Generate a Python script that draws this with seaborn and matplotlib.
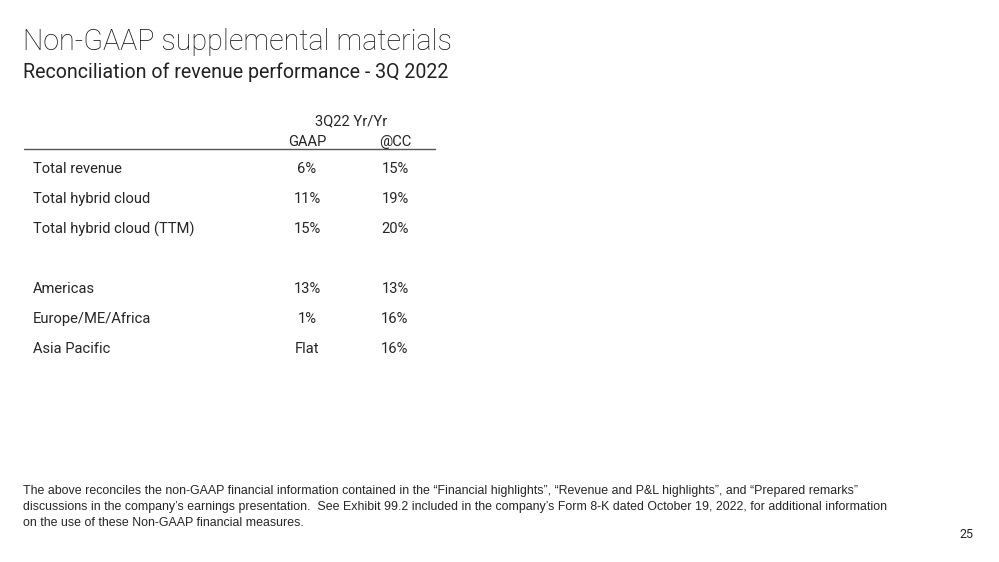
import matplotlib
matplotlib.use("Agg")
import matplotlib.pyplot as plt
import seaborn as sns

# table content
header_top = "3Q22 Yr/Yr"
col_names = ["GAAP", "@CC"]
group1_labels = ["Total revenue", "Total hybrid cloud", "Total hybrid cloud (TTM)"]
group1_gaap = ["6%", "11%", "15%"]
group1_cc = ["15%", "19%", "20%"]
group2_labels = ["Americas", "Europe/ME/Africa", "Asia Pacific"]
group2_gaap = ["13%", "1%", "Flat"]
group2_cc = ["13%", "16%", "16%"]

title = "Non-GAAP supplemental materials"
subtitle = "Reconciliation of revenue performance - 3Q 2022"
footnote = ("The above reconciles the non-GAAP financial information contained in the \u201cFinancial highlights\u201d, "
            "\u201cRevenue and P&L highlights\u201d, and \u201cPrepared remarks\u201d\n"
            "discussions in the company\u2019s earnings presentation.  See Exhibit 99.2 included in the company\u2019s "
            "Form 8-K dated October 19, 2022, for additional information\n"
            "on the use of these Non-GAAP financial measures.")
page_no = "25"

sns.set_theme(style="white")
plt.rcParams["font.family"] = ["Roboto", "DejaVu Sans"]

fig = plt.figure(figsize=(9.99, 5.62), dpi=100)
ax = fig.add_axes([0, 0, 1, 1])
ax.set_xlim(0, 999)
ax.set_ylim(562, 0)
ax.axis("off")

dark = "#161616"
txt = "#262626"

ax.text(23, 50, title, fontsize=20.7, color=dark, fontweight="light", va="baseline")
ax.text(23, 78, subtitle, fontsize=14.1, color="#222222", va="baseline")

x_label, x_gaap, x_cc = 33, 307, 395
ax.text((x_gaap + x_cc) / 2, 121, header_top, fontsize=10.6, color=txt, ha="center", va="center")
for x, name in zip([x_gaap, x_cc], col_names):
    ax.text(x, 142, name, fontsize=10.6, color=txt, ha="center", va="center")
ax.plot([24, 435], [149, 149], color="#555555", lw=1.0)

row_step = 30
y0 = 169
rows = []
for i, (lab, g, c) in enumerate(zip(group1_labels, group1_gaap, group1_cc)):
    rows.append((y0 + i * row_step, lab, g, c))
y1 = y0 + (len(group1_labels) + 1) * row_step
for i, (lab, g, c) in enumerate(zip(group2_labels, group2_gaap, group2_cc)):
    rows.append((y1 + i * row_step, lab, g, c))

for y, lab, g, c in rows:
    ax.text(x_label, y, lab, fontsize=10.6, color=txt, ha="left", va="center")
    ax.text(x_gaap, y, g, fontsize=10.6, color=txt, ha="center", va="center")
    ax.text(x_cc, y, c, fontsize=10.6, color=txt, ha="center", va="center")

ax.text(23, 485, footnote, fontsize=8.92, color=txt, family=["Liberation Sans", "DejaVu Sans"],
        va="top", ha="left", linespacing=1.43)
ax.text(973, 535, page_no, fontsize=9, color=txt, ha="right", va="center")

fig.savefig("out.png", dpi=100)
